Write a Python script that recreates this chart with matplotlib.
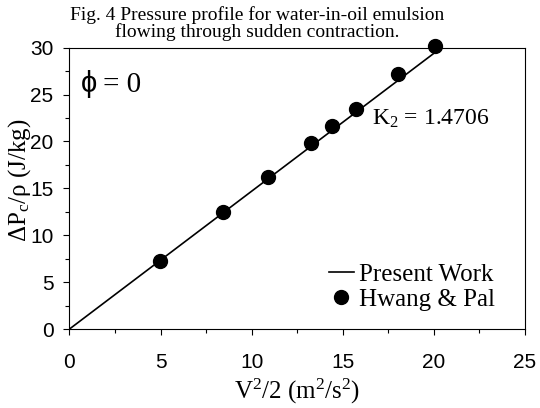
import matplotlib

matplotlib.use("Agg")
import matplotlib.pyplot as plt  # noqa: E402
from matplotlib.ticker import MultipleLocator  # noqa: E402

v2_half = [4.95, 8.45, 10.9, 13.25, 14.4, 15.7, 18.05, 20.05]
dp_rho = [7.25, 12.5, 16.25, 19.8, 21.6, 23.45, 27.2, 30.15]

# present-work line, K2 = 1.4706
line_x = [0.0, 20.2]
line_y = [0.0, 29.7]

SERIF = "Liberation Serif"
SANS = "Liberation Sans"

plt.rcParams.update({
    "font.family": SERIF,
    "mathtext.default": "regular",
    "axes.linewidth": 0.8,
})

fig = plt.figure(figsize=(5.4, 4.08), dpi=100)
ax = fig.add_axes([0.1287, 0.1936, 0.8435, 0.6894])

ax.plot(line_x, line_y, color="black", lw=1.2, label="Present Work")
ax.plot(v2_half, dp_rho, "o", color="black", ms=10, label="Hwang & Pal",
        clip_on=False, zorder=3)

ax.set_xlim(0, 25)
ax.set_ylim(0, 30)
ax.xaxis.set_major_locator(MultipleLocator(5))
ax.xaxis.set_minor_locator(MultipleLocator(2.5))
ax.yaxis.set_major_locator(MultipleLocator(5))
ax.yaxis.set_minor_locator(MultipleLocator(2.5))
ax.tick_params(which="major", direction="out", length=4.5, width=0.8)
ax.tick_params(which="minor", direction="out", length=3, width=0.8)
ax.tick_params(axis="x", pad=13)
ax.tick_params(axis="y", pad=7)
for lab in ax.get_xticklabels() + ax.get_yticklabels():
    lab.set_fontfamily(SANS)
    lab.set_fontsize(15)

ax.set_xlabel("V$^2$/2 (m$^2$/s$^2$)", fontsize=18, labelpad=3)
ax.set_ylabel("ΔP$_c$/ρ (J/kg)", fontsize=18)
ax.yaxis.set_label_coords(-0.08, 0.53)

ax.text(0.6, 25.3, "ϕ", fontsize=21, family=SANS, va="baseline")
ax.text(1.85, 25.3, "= 0", fontsize=21, va="baseline")
ax.text(16.6, 21.75, "K$_2$ = 1.4706", fontsize=17, va="baseline")

ax.legend(loc="lower right", bbox_to_anchor=(0.934, 0.064), frameon=False,
          fontsize=18, handlelength=1.0, handletextpad=0.2,
          labelspacing=0.1, borderaxespad=0, borderpad=0)

fig.text(0.477, 0.985, "Fig. 4 Pressure profile for water-in-oil emulsion\n"
         "flowing through sudden contraction.", ha="center", va="top",
         fontsize=14, linespacing=0.93)

fig.savefig("out.png", dpi=100)
